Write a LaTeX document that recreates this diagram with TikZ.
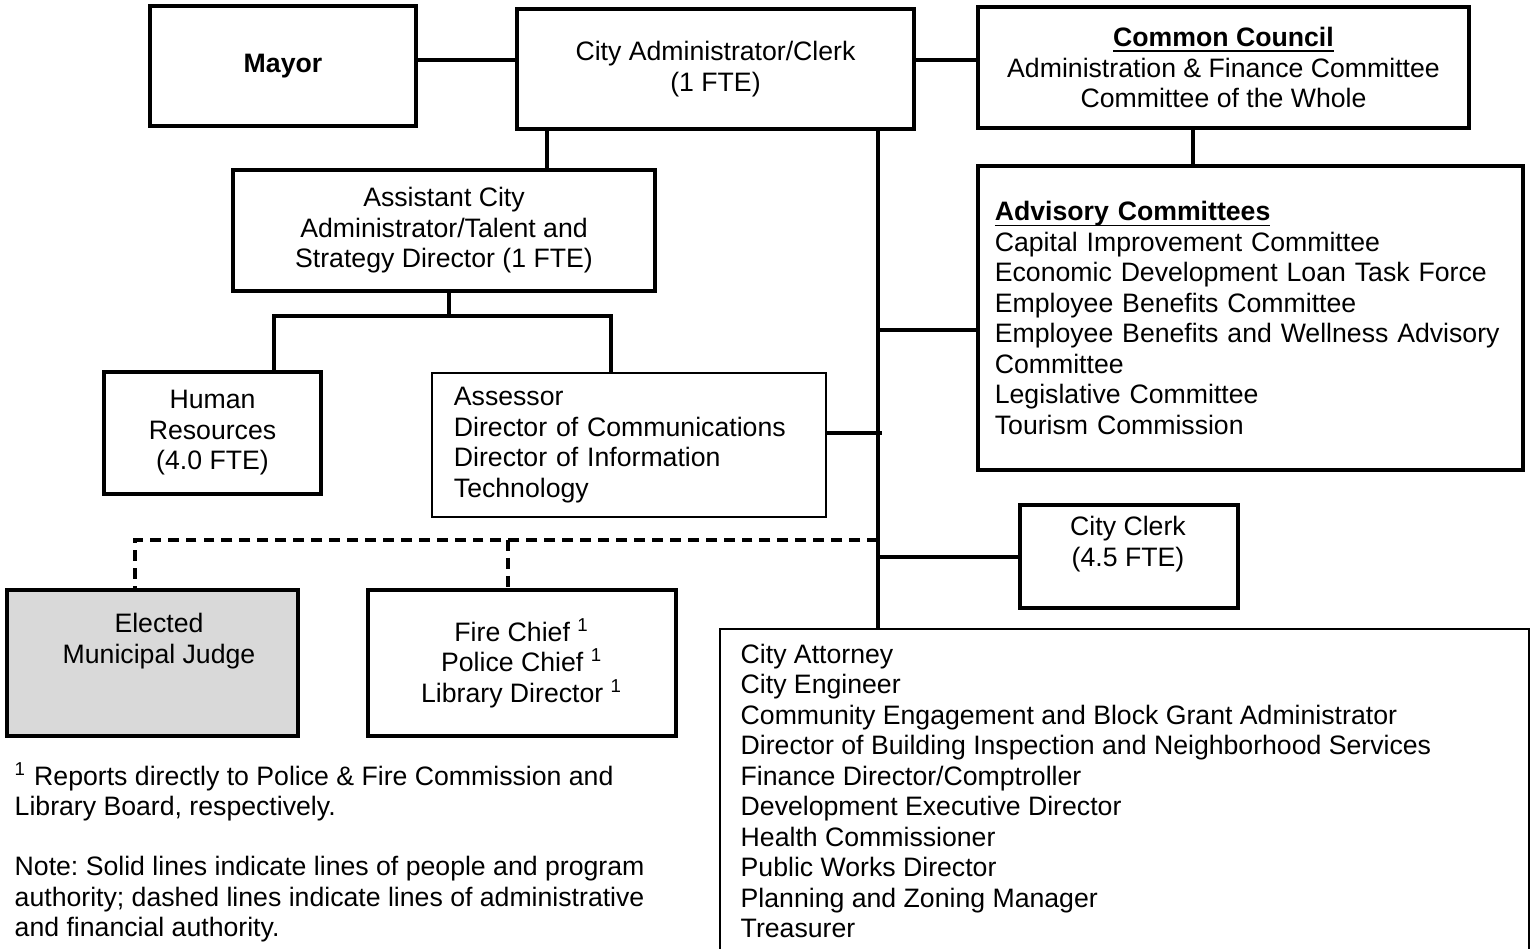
\documentclass[tikz,border=0pt]{standalone}
\usepackage{amsmath}
\usepackage{fontspec}
\setmainfont{Liberation Sans}
\usetikzlibrary{calc}
\frenchspacing

\begin{document}
\begin{tikzpicture}[x=0.01cm,y=-0.01cm,
  every node/.style={font=\fontsize{7.58pt}{8.68pt}\selectfont,inner sep=0pt},
  box/.style={draw,line width=1.05pt,align=center},
  thinbox/.style={draw,line width=0.45pt},
  link/.style={line width=1.05pt},
  dashlink/.style={line width=1.05pt,dash pattern=on 3.1pt off 2pt}]
  \useasboundingbox (0,0) rectangle (1535,949);
  \clip (0,0) rectangle (1535,949);
  \path (283,66) node[box,minimum width=2.66cm,minimum height=1.2cm] (mayor) {\textbf{Mayor}}
  (715.5,69) node[box,minimum width=3.97cm,minimum height=1.2cm] (admin) {City Administrator/Clerk\\(1 FTE)}
  (1223.5,67.5) node[box,minimum width=4.91cm,minimum height=1.21cm] (council)
    {\textbf{\underline{\smash[b]{Common Council}}}\\Administration \& Finance Committee\\Committee of the Whole}
  (1250.5,318) node[box,align=left,text width=5.11cm,inner xsep=0.17cm,minimum height=3.04cm] (advis)
    {\textbf{\underline{\smash[b]{Advisory Committees}}}\\Capital Improvement Committee\\Economic Development Loan Task Force\\
     Employee Benefits Committee\\Employee Benefits and Wellness Advisory\\Committee\\Legislative Committee\\Tourism Commission}
  (444,230.5) node[box,minimum width=4.22cm,minimum height=1.21cm] (asst)
    {Assistant City\\Administrator/Talent and\\Strategy Director (1 FTE)}
  (212.5,433) node[box,minimum width=2.17cm,minimum height=1.22cm] (hr) {Human\\Resources\\(4.0 FTE)}
  (629,445) node[thinbox,align=left,text width=3.5cm,inner xsep=0.22cm,minimum height=1.44cm] (assessor)
    {Assessor\\Director of Communications\\Director of Information\\Technology}
  (1129,556.5) node[box,minimum width=2.18cm,minimum height=1.03cm] (clerk) {}
  (1128,544) node[align=center] (clerktxt) {City Clerk\\(4.5 FTE)}
  (152.5,663) node[box,line width=1.2pt,fill=gray!30,minimum width=2.91cm,minimum height=1.46cm] (judge) {}
  (159,641) node[align=center] (judgetxt) {Elected\\Municipal Judge}
  (522,663) node[box,minimum width=3.08cm,minimum height=1.46cm] (fire)
    {Fire Chief \textsuperscript{1}\\Police Chief \textsuperscript{1}\\Library Director \textsuperscript{1}}
  (719,628) node[thinbox,anchor=north west,minimum width=8.09cm,minimum height=3.5cm] (staffbox) {};
  \node[anchor=north west,align=left] (staff) at ($(staffbox.north west)+(21,15)$)
    {City Attorney\\City Engineer\\Community Engagement and Block Grant Administrator\\
     Director of Building Inspection and Neighborhood Services\\Finance Director/Comptroller\\
     Development Executive Director\\Health Commissioner\\Public Works Director\\
     Planning and Zoning Manager\\Treasurer};
  \node[anchor=west,align=left] (note1) at (14,792)
    {\textsuperscript{1} Reports directly to Police \& Fire Commission and\\Library Board, respectively.};
  \node[anchor=west,align=left] (note2) at (14,899.5)
    {Note: Solid lines indicate lines of people and program\\authority; dashed lines indicate lines of administrative\\and financial authority.};
  % solid lines
  \draw[link] (mayor.east |- 0,60) -- (admin.west |- 0,60);
  \draw[link] (admin.east |- 0,60) -- (council.west |- 0,60);
  \draw[link] (council.south -| 1193,0) -- (advis.north -| 1193,0);
  \draw[link] (admin.south -| 878,0) -- (staffbox.north -| 878,0);
  \draw[link] (878,330) -- (advis.west |- 0,330);
  \draw[link] (assessor.east |- 0,433) -- (882,433);
  \draw[link] (878,557) -- (clerk.west |- 0,557);
  \draw[link] (admin.south -| 547,0) -- (asst.north -| 547,0);
  \draw[link] (asst.south -| 449,0) -- (449,316);
  \draw[link] (hr.north -| 274,0) -- (274,316) -- (611,316) -- (assessor.north -| 611,0);
  % dashed lines
  \draw[dashlink] (878,540) -- (135,540) -- (judge.north -| 135,0);
  \draw[dashlink] (508,540) -- (fire.north -| 508,0);
\end{tikzpicture}
\end{document}
